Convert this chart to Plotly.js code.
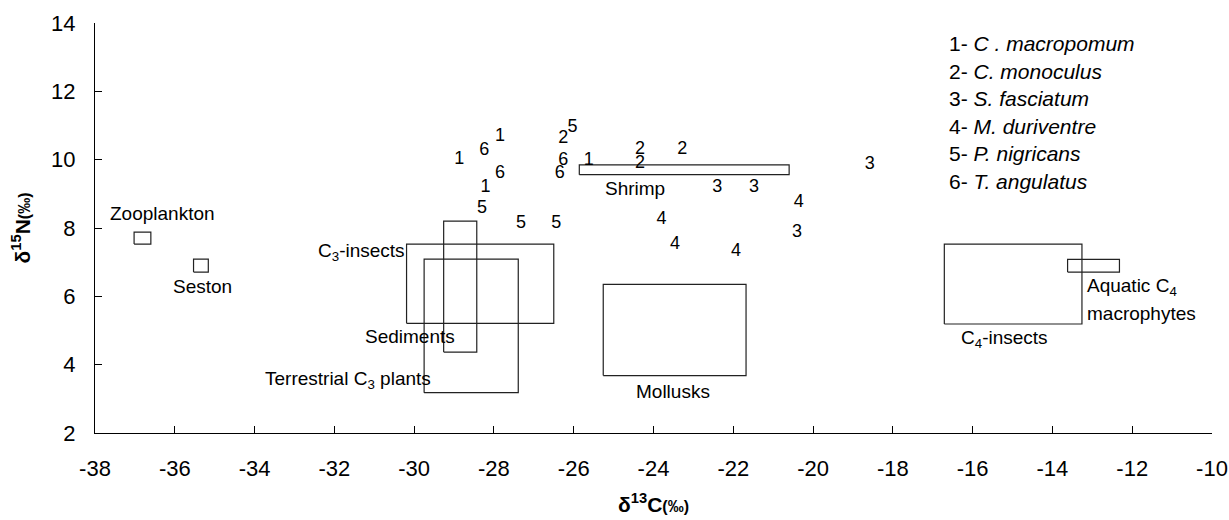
<!DOCTYPE html>
<html>
<head>
<meta charset="utf-8">
<script src="https://cdn.plot.ly/plotly-3.0.1.min.js"></script>
<style>html,body{margin:0;padding:0;background:#fff;}#chart{width:1229px;height:520px;}</style>
</head>
<body>
<div id="chart"></div>
<script>
// Fish species points (number labels)
const fishId = ['1','1','1','1','2','2','2','2','3','3','3','3','4','4','4','4','5','5','5','5','6','6','6','6'];
const fishC  = [-27.85,-28.87,-28.21,-25.62, -26.26,-24.34,-24.34,-23.28, -22.40,-21.48,-20.40,-18.58, -20.36,-23.80,-23.46,-21.93, -28.30,-27.32,-26.44,-26.03, -28.24,-27.85,-26.26,-26.35];
const fishN  = [10.68,10.00,9.19,9.99, 10.63,10.29,9.88,10.29, 9.19,9.19,7.87,9.87, 8.74,8.24,7.53,7.31, 8.56,8.14,8.14,10.95, 10.27,9.60,9.99,9.60];

// Food source boxes
const srcName = ['Zooplankton','Seston','C3-insects','Sediments','Terrestrial C3 plants','Mollusks','Shrimp','C4-insects','Aquatic C4 macrophytes'];
const srcCmin = [-37.02,-35.53,-30.19,-29.26,-29.75,-25.26,-25.86,-16.71,-13.62];
const srcCmax = [-36.60,-35.16,-26.50,-28.43,-27.39,-21.68,-20.60,-13.26,-12.32];
const srcNmin = [7.53,6.71,5.21,4.37,3.18,3.68,9.56,5.19,6.71];
const srcNmax = [7.88,7.09,7.53,8.20,7.09,6.35,9.85,7.53,7.08];

// Box label texts and anchor points
const lblText = ['Zooplankton','Seston','C<sub>3</sub>-insects','Sediments','Terrestrial C<sub>3</sub> plants','Mollusks','Shrimp','C<sub>4</sub>-insects','Aquatic C<sub>4</sub>','macrophytes'];
const lblC    = [-36.32,-35.30,-31.31,-30.10,-31.65,-23.50,-24.47,-15.19,-13.18,-13.18];
const lblN    = [8.43,6.30,7.31,4.82,3.55,3.21,9.17,4.74,6.28,5.50];
const lblAlign= ['center','center','center','center','center','center','center','center','left','left'];

// Axis ticks
const xTickVals = [-38,-36,-34,-32,-30,-28,-26,-24,-22,-20,-18,-16,-14,-12,-10];
const xTickText = ['-38','-36','-34','-32','-30','-28','-26','-24','-22','-20','-18','-16','-14','-12','-10'];
const yTickVals = [2,4,6,8,10,12,14];
const yTickText = ['2','4','6','8','10','12','14'];

// Species key
const keyLines = ['1- <i>C . macropomum</i>','2- <i>C. monoculus</i>','3- <i>S. fasciatum</i>','4- <i>M. duriventre</i>','5- <i>P. nigricans</i>','6- <i>T. angulatus</i>'];

const FONT = 'Arial, "Liberation Sans", sans-serif';
const traces = [];
for (let i = 0; i < srcName.length; i++) {
  traces.push({
    type: 'scatter', mode: 'lines', name: srcName[i], showlegend: false, hoverinfo: 'name',
    x: [srcCmin[i], srcCmax[i], srcCmax[i], srcCmin[i], srcCmin[i]],
    y: [srcNmin[i], srcNmin[i], srcNmax[i], srcNmax[i], srcNmin[i]],
    line: {color: '#222', width: 1.2}
  });
}
traces.push({
  type: 'scatter', mode: 'text', x: fishC, y: fishN, text: fishId, showlegend: false,
  textposition: 'middle center', textfont: {family: FONT, size: 18, color: '#000'}, cliponaxis: false
});

const annotations = [];
for (let i = 0; i < lblText.length; i++) {
  annotations.push({x: lblC[i], y: lblN[i], xref: 'x', yref: 'y', text: lblText[i], showarrow: false,
    xanchor: lblAlign[i], yanchor: 'middle', font: {family: FONT, size: 19, color: '#000'}});
}
for (let i = 0; i < keyLines.length; i++) {
  annotations.push({x: 0.7625, y: 0.9495 - i * 0.067, xref: 'paper', yref: 'paper', text: keyLines[i], showarrow: false,
    xanchor: 'left', yanchor: 'middle', font: {family: FONT, size: 21, color: '#000'}});
}

const layout = {
  width: 1229, height: 520,
  margin: {l: 95, r: 17, t: 23, b: 87},
  paper_bgcolor: '#fff', plot_bgcolor: '#fff',
  font: {family: FONT, color: '#000'},
  showlegend: false,
  xaxis: {
    range: [-38, -10], tickmode: 'array', tickvals: xTickVals, ticktext: xTickText,
    showgrid: false, zeroline: false, showline: true, linecolor: '#000', linewidth: 1,
    ticks: 'inside', ticklen: 7, tickcolor: '#000', ticklabelstandoff: 16, ticklabeloverflow: 'allow',
    tickfont: {family: FONT, size: 22, color: '#000'},
    title: {text: '<b>δ<sup>13</sup>C<span style="font-size:16px">(‰)</span></b>', font: {family: FONT, size: 21, color: '#000'}, standoff: 16}
  },
  yaxis: {
    range: [2, 14], tickmode: 'array', tickvals: yTickVals, ticktext: yTickText,
    showgrid: false, zeroline: false, showline: true, linecolor: '#000', linewidth: 1,
    ticks: 'inside', ticklen: 7, tickcolor: '#000', ticklabelstandoff: 14, ticklabeloverflow: 'allow',
    tickfont: {family: FONT, size: 22, color: '#000'},
    title: {text: '<b>δ<sup>15</sup>N<span style="font-size:16px">(‰)</span></b>', font: {family: FONT, size: 21, color: '#000'}, standoff: 14}
  },
  annotations: annotations
};

Plotly.newPlot('chart', traces, layout, {displayModeBar: false, staticPlot: true});
</script>
</body>
</html>
